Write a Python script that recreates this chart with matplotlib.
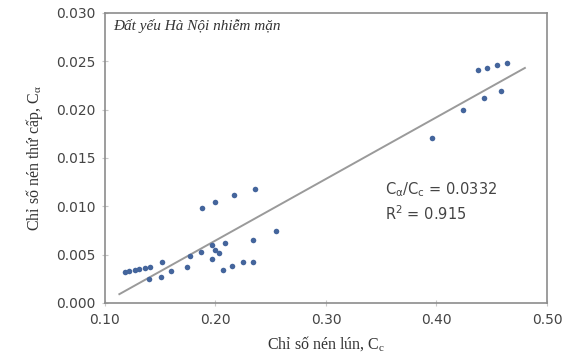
import numpy as np
import matplotlib.pyplot as plt

# Chi so nen lun Cc vs chi so nen thu cap C_alpha
cc = [0.118, 0.122, 0.127, 0.131, 0.136, 0.141, 0.140, 0.151, 0.152, 0.160,
      0.174, 0.177, 0.187, 0.197, 0.197, 0.200, 0.203, 0.209, 0.207, 0.215,
      0.225, 0.234, 0.234, 0.255, 0.188, 0.200, 0.217, 0.236,
      0.396, 0.424, 0.443, 0.458, 0.438, 0.446, 0.455, 0.464]
ca = [0.0032, 0.0033, 0.0034, 0.0035, 0.0036, 0.0037, 0.0025, 0.0027, 0.0042, 0.0033,
      0.0037, 0.0049, 0.0053, 0.0060, 0.0045, 0.0055, 0.0052, 0.0062, 0.0034, 0.0038,
      0.0042, 0.0042, 0.0065, 0.0074, 0.0098, 0.0104, 0.0112, 0.0118,
      0.0171, 0.0200, 0.0212, 0.0219, 0.0241, 0.0243, 0.0246, 0.0248]

label_ratio = "0.0332"
label_r2 = "0.915"

fig = plt.figure(figsize=(5.69, 3.56), dpi=100)
ax = fig.add_axes([0.1845, 0.149, 0.7768, 0.8145])

ax.scatter(cc, ca, s=16, color='#44659c', zorder=3, linewidths=0)

# linear trend line
k, b = np.polyfit(cc, ca, 1)
xl = np.array([0.113, 0.480])
ax.plot(xl, k * xl + b, color='#9a9a9a', linewidth=1.4, zorder=2)

ax.set_xlim(0.10, 0.50)
ax.set_ylim(0.0, 0.030)
ax.set_xticks([0.10, 0.20, 0.30, 0.40, 0.50])
ax.set_yticks([0.0, 0.005, 0.010, 0.015, 0.020, 0.025, 0.030])
ax.set_xticklabels(['%.2f' % v for v in ax.get_xticks()])
ax.set_yticklabels(['%.3f' % v for v in ax.get_yticks()])
ax.tick_params(direction='inout', length=4, width=0.8, color='#c8c8c8',
               labelsize=10, labelcolor='#444444', pad=5)
for lab in ax.get_xticklabels() + ax.get_yticklabels():
    lab.set_family('DejaVu Sans')

for s in ax.spines.values():
    s.set_color('#8c8c8c')
    s.set_linewidth(1.2)

ax.set_xlabel('Chỉ số nén lún, C$_\\mathregular{c}$', family='Liberation Serif',
              fontsize=11.5, color='#333333', labelpad=6)
ax.set_ylabel('Chỉ số nén thứ cấp, C$_\\mathregular{\\alpha}$', family='Liberation Serif',
              fontsize=11.5, color='#333333', labelpad=8)

ax.text(0.018, 0.94, 'Đất yếu Hà Nội nhiễm mặn', transform=ax.transAxes,
        family='Liberation Serif', style='italic', fontsize=11, color='#333333')
ax.text(0.633, 0.375, 'C$_\\mathregular{\\alpha}$/C$_\\mathregular{c}$ = ' + label_ratio,
        transform=ax.transAxes, family='DejaVu Sans', fontsize=10.5, color='#444444')
ax.text(0.633, 0.285, 'R$^\\mathregular{2}$ = ' + label_r2,
        transform=ax.transAxes, family='DejaVu Sans', fontsize=10.5, color='#444444')

fig.savefig('out.png', dpi=100)
